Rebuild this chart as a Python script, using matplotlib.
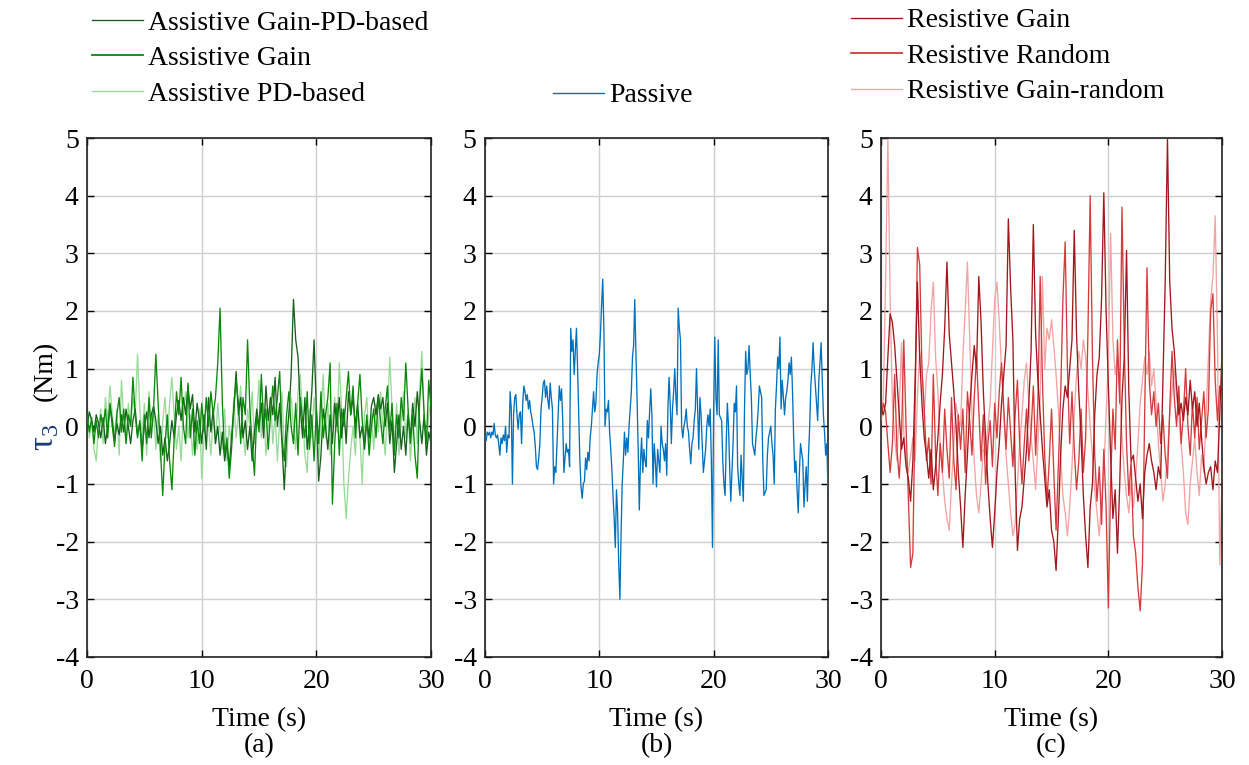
import numpy as np
import matplotlib
matplotlib.use("Agg")
import matplotlib.pyplot as plt
from matplotlib.lines import Line2D

plt.rcParams['font.family'] = ['Liberation Serif', 'DejaVu Serif']
plt.rcParams['mathtext.fontset'] = 'custom'
plt.rcParams['mathtext.rm'] = 'Liberation Serif'
plt.rcParams['mathtext.it'] = 'Liberation Serif:italic'
plt.rcParams['axes.unicode_minus'] = False

# ---------------- data ----------------
# sampling grids (s)
t_fine = np.round(np.arange(0, 301) * 0.1, 2)      # passive trial
t_coarse = np.round(np.arange(0, 151) * 0.2, 2)    # assistive / resistive trials

assist_gain_pd = [
    0.0, 0.25, 0.1, -0.1, 0.2, 0.05, -0.2, 0.15, -0.3, 0.0,
    0.35, 0.1, -0.25, 0.05, -0.15, 0.2, -0.1, 0.3, 0.0, -0.3,
    0.1, 0.3, -0.15, 0.05, -0.4, 0.0, 0.25, -0.2, 0.2, 0.35,
    0.1, -0.3, 0.0, -0.5, -0.2, -0.6, -0.3, 0.1, -0.2, 0.2,
    0.45, 0.1, 0.5, 0.2, 0.7, 0.3, 0.55, -0.1, 0.4, 0.1,
    -0.3, 0.2, -0.4, 0.5, -0.1, 0.3, -0.3, 0.0, -0.5, -0.1,
    -0.6, -0.3, -0.7, -0.2, 0.3, 0.95, 0.2, 0.5, -0.2, 0.1,
    -0.4, 0.0, -0.6, -0.1, 0.3, 0.0, 0.4, -0.2, 0.7, 0.1,
    0.5, 0.2, 0.85, 0.0, 0.4, -0.3, -1.1, -0.2, 0.2, 0.9,
    2.2, 1.5, 1.2, 0.3, -0.2, 0.5, -0.4, 0.0, 0.6, 1.5,
    0.3, -0.95, -0.5, 0.3, 0.0, -0.4, 0.2, -0.3, 0.4, 0.0,
    0.5, -0.2, 0.3, -0.3, 0.6, 0.2, 0.5, 0.0, 0.4, -0.2,
    0.0, -0.4, 0.1, -0.2, 0.35, 0.5, 0.2, 0.55, 0.3, 0.5,
    0.0, 0.4, -0.3, 0.1, -0.8, -0.3, 0.2, -0.4, 0.0, -0.5,
    0.2, -0.2, 0.4, 0.0, 0.6, 0.1, -0.3, 0.2, -0.5, -0.1,
    -0.3,
]

assist_gain = [
    0.2, -0.1, 0.15, -0.3, 0.1, -0.2, 0.2, 0.0, 0.3, -0.2,
    0.4, 0.0, -0.35, 0.2, 0.5, -0.1, 0.3, -0.3, 0.2, 0.0,
    0.85, 0.2, -0.2, 0.1, -0.6, 0.2, -0.3, 0.5, -0.2, 0.3,
    1.25, 0.4, -0.4, -1.2, -0.3, 0.2, -0.6, -1.1, -0.2, 0.6,
    0.2, 0.85, 0.0, -0.3, 0.75, -0.2, 0.3, -0.5, 0.1, -0.3,
    0.4, -0.1, 0.5, 0.0, 0.6, 0.2, 0.5, 1.1, 2.05, 0.4,
    -0.5, -0.2, -0.9, -0.4, 0.3, 0.8, 0.4, -0.3, 0.5, 0.2,
    1.5, 0.3, -0.3, -0.85, 0.2, -0.1, 0.9, 0.0, 0.3, -0.4,
    0.2, 0.7, 0.1, 0.5, 0.95, -0.2, -0.6, 0.2, 0.6, 0.0,
    -0.3, 0.4, -0.5, 0.5, 0.1, -0.2, 0.6, -0.4, 0.2, -0.6,
    0.3, -0.3, 0.6, -0.2, 0.2, 0.5, 1.1, -1.35, -0.3, 0.4,
    -0.5, 0.3, 0.0, 0.5, 0.95, 0.2, 0.7, -0.2, 0.4, 0.9,
    0.1, -0.3, 0.2, -0.5, 0.0, 0.3, -0.2, 0.5, 0.1, -0.3,
    0.3, 0.7, -0.1, 0.4, -0.5, 0.2, -0.2, 0.5, 0.1, 1.1,
    0.3, -0.3, 0.2, -0.5, -0.9, 0.4, 1.0, 0.2, -0.3, 0.8,
    0.3,
]

assist_pd = [
    0.45, -0.2, 0.1, -0.4, -0.6, 0.0, 0.3, -0.3, 0.5, 0.1,
    0.7, 0.2, -0.2, 0.3, -0.5, 0.8, 0.1, -0.3, 0.4, 0.0,
    0.5, 0.2, 1.25, 0.3, -0.2, 0.4, -0.5, 0.6, 0.0, 0.3,
    -0.4, 0.2, -0.6, 0.1, 0.5, -0.2, 0.4, 0.85, 0.2, -0.4,
    0.0, -0.6, 0.3, 0.6, -0.2, 0.2, -0.5, 0.0, -0.4, 0.3,
    -0.9, -0.2, 0.5, 0.0, -0.5, 0.2, -0.3, 0.4, -0.1, -0.4,
    0.3, -0.6, 0.0, -0.3, 0.5, -0.2, 0.2, 0.7, -0.1, -0.5,
    0.3, 0.0, 0.6, -0.3, 0.2, 0.8, -0.2, 0.4, -0.5, 0.0,
    0.5, -0.3, 0.2, -0.6, 0.1, 0.6, -0.4, -0.7, 0.2, 0.5,
    0.0, -0.4, 0.6, 0.9, 0.2, -0.5, -0.8, 0.3, -0.2, 0.5,
    0.0, -0.6, 0.2, 0.9, -0.2, 0.4, -0.5, 0.1, 0.5, -0.1,
    1.1, 0.3, -1.0, -1.6, -0.9, -0.4, 0.0, -0.5, 0.3, -0.2,
    -1.0, 0.2, 0.5, -0.3, 0.2, -0.4, 0.4, -0.1, 0.6, 0.0,
    -0.5, 0.2, 1.2, 0.3, -0.3, 0.4, -0.5, 0.1, 0.6, -0.2,
    0.3, -0.6, 0.0, 0.5, -0.3, 0.6, 1.3, 0.2, -0.4, 0.2,
    0.5,
]

passive = [
    -0.15, -0.25, -0.1, -0.15, -0.1, -0.2, -0.1, -0.15, 0.05, -0.15,
    -0.2, -0.15, -0.3, -0.5, -0.2, -0.3, -0.15, -0.25, 0.0, -0.45,
    -0.15, -0.2, 0.6, 0.3, -1.0, 0.2, 0.5, 0.55, 0.2, -0.05,
    0.2, 0.25, -0.3, 0.4, 0.7, 0.6, 0.45, 0.55, 0.3, 0.45,
    0.25, 0.15, 0.0, -0.1, -0.35, -0.7, -0.75, -0.55, -0.3, 0.3,
    0.5, 0.75, 0.8, 0.5, 0.7, 0.45, 0.3, 0.75, 0.5, 0.3,
    -1.0, -0.7, -0.8, -0.3, 0.2, 0.7, 0.45, 0.65, 0.1, -0.8,
    -0.55, -0.3, -0.45, -0.4, -0.7, 1.7, 1.3, 1.5, 0.9, 1.3,
    1.7, 1.0, 0.2, -0.6, -1.05, -1.25, -1.0, -0.95, -0.55, -0.75,
    -0.45, -0.6, -0.2, 0.0, 0.3, 0.6, 0.25, 0.4, 0.9, 1.1,
    1.25, 1.6, 2.1, 2.55, 1.7, 0.0, 0.3, 0.25, 0.45, -0.1,
    -0.4, -0.75, -1.2, -1.6, -2.1, -1.1, -1.5, -2.4, -3.0, -1.9,
    -1.0, -0.6, -0.1, -0.5, -0.2, -0.45, 0.0, 0.3, 0.6, 1.2,
    1.4, 2.2, 1.3, 0.5, -0.4, -1.45, -0.6, -0.2, -0.8, -0.4,
    -0.6, -0.7, 0.1, -0.2, 0.25, 0.65, 0.2, -1.0, -0.3, -0.6,
    -1.05, -0.4, -0.6, -0.8, 0.0, -0.3, -0.4, -0.6, -0.3, -0.85,
    0.3, 0.85, 0.4, -0.3, 0.3, 0.6, 1.0, 0.5, 0.2, 2.05,
    1.7, 1.5, 0.0, -0.2, 0.0, 0.1, 0.3, 0.0, -0.1, -0.4,
    -0.65, -0.3, -0.2, 0.1, 0.3, 1.0, 0.3, -0.4, 0.5, 0.2,
    -0.3, -0.8, -0.6, -0.4, 0.0, 0.2, 0.0, 0.3, -0.6, -2.1,
    0.3, 1.55, 0.5, 0.2, 1.5, 0.2, 0.15, 0.1, -0.6, -1.0,
    -1.2, -0.3, 0.4, 0.0, -0.7, -1.3, -0.8, -0.3, 0.4, 0.25,
    0.7, -0.7, -1.0, -1.2, -0.5, -0.9, -1.3, 0.3, 1.3, 0.9,
    1.0, 1.4, 0.9, 0.5, -0.3, -0.4, -0.5, -0.2, 0.0, 0.3,
    0.7, 0.6, 0.5, -0.6, -1.2, -1.15, -1.1, -0.5, -0.2, -0.1,
    0.0, -0.3, -0.5, -1.0, 0.3, 0.7, 1.2, 1.0, 1.55, 0.3,
    0.8, 0.5, 0.2, 0.5, 0.6, 0.8, 1.1, 0.9, 1.2, 0.6,
    -0.2, -0.8, -0.6, -1.1, -1.5, -0.8, -0.3, -0.45, -0.6, -1.4,
    -1.0, -0.7, -1.3, -0.5, 0.0, 0.7, 1.0, 1.45, 1.0, 0.7,
    0.4, 0.1, 0.8, 1.1, 1.45, 0.8, 0.2, -0.1, -0.5, -0.3,
    -1.1,
]

resist_gain = [
    0.3, 0.2, 0.4, 1.2, 1.95, 1.8, 1.4, 0.8, 0.2, -0.4,
    -0.2, -0.7, -0.9, -1.3, -0.6, 0.8, 2.5, 1.2, 0.4, -0.2,
    -0.5, -0.9, -0.4, -1.1, -0.7, -0.2, 0.4, 0.9, 1.7, 2.85,
    1.6, 1.1, 0.6, 0.0, -0.8, -1.4, -2.1, -1.2, -0.5, 0.3,
    0.9, 1.4, 1.0, 2.6, 1.8, 0.6, -0.2, -1.0, -1.6, -2.1,
    -1.5, -0.8, -0.3, 0.4, 0.9, 1.4, 3.6, 2.4, 1.5, -0.8,
    -2.15, -1.6, -1.4, -0.9, -0.4, 0.4, 1.3, 3.5, 1.6, 0.8,
    0.2, -0.4, -0.9, -1.4, -1.1, -1.8, -2.0, -2.5, -1.6, -0.5,
    0.3, 0.7, 0.5, 1.0, 1.5, 3.4, 1.6, 0.6, -0.2, -1.2,
    -1.9, -2.45, -1.4, -1.0, 0.2, 0.9, 1.2, 2.2, 4.05, 2.0,
    0.7, -0.5, -1.6, -1.1, -2.2, -1.0, 0.5, 1.2, 3.05, 0.6,
    -0.6, -0.5, -0.9, -1.3, -1.0, -1.6, -0.8, -0.5, -0.3, -0.6,
    -0.8, -1.1, -0.7, -0.9, 0.8, 2.5, 5.0, 2.5, 1.7, 1.3,
    0.7, 0.2, 0.4, 0.1, 0.5, 0.2, 0.8, 0.3, 0.6, 0.0,
    0.4, -0.2, -0.7, -1.0, -0.8, -0.7, -1.1, -0.6, -0.8, 0.2,
    1.3,
]

resist_random = [
    0.1, 0.4, 0.25, -0.3, -0.8, -0.3, 0.9, -0.4, -0.9, -0.2,
    1.5, 0.0, -1.2, -2.45, -2.2, 0.4, 3.1, 2.8, 1.0, 0.3,
    -0.6, -0.2, -1.0, 0.9, -0.5, -1.2, -0.3, -0.8, 0.3, -0.4,
    -0.9, 0.5, -0.6, -1.1, 0.2, -0.4, 0.3, -0.8, 0.6, 0.1,
    -0.5, 0.5, 1.2, 0.3, -0.6, 0.2, -1.0, -0.3, 0.1, -0.7,
    0.4, -0.2, 0.6, 1.1, 0.3, -0.4, 0.5, -0.1, -0.7, 0.2,
    0.8, -0.3, -1.0, -0.3, 0.3, -0.6, -0.1, 0.7, -0.5, 0.4,
    2.6, 0.8, -0.5, -1.3, -0.6, 0.3, -0.8, -1.8, -0.7, 0.5,
    2.2, 3.2, 1.0, -0.3, 0.6, -0.4, -1.1, -0.6, 0.3, -0.8,
    -0.2, 1.6, 4.0, 1.2, -0.5, -1.3, -0.7, -1.7, -0.4, -1.4,
    -3.15, -1.0, 0.3, -0.4, 1.5, 0.4, 3.8, 1.4, -0.3, -1.2,
    -0.6, -1.9, -2.2, -2.8, -3.2, -2.4, 0.3, 2.75, 0.8, 0.2,
    0.6, 0.0, 0.4, -0.3, 0.2, -0.5, -0.9, 0.3, 1.3, 0.5,
    0.0, 0.7, -0.3, 0.2, 1.0, 0.0, -0.5, 0.4, -0.2, 0.5,
    -0.4, 0.1, 0.6, -0.2, 0.3, 2.0, 2.3, 0.8, 0.1, 0.7,
    0.4,
]

resist_gain_random = [
    0.2, 0.5, 2.5, 5.0, 2.2, 0.4, -0.2, -0.6, 0.3, 1.45,
    -0.1, -0.6, -0.8, -0.5, -0.2, -0.6, 0.5, 1.3, 1.0, 0.2,
    0.9, 1.1, 2.0, 2.5, 1.2, 0.6, -0.3, -0.8, -1.3, -1.6,
    -1.8, -1.0, -0.3, 0.4, 0.1, 0.0, 1.2, 2.0, 2.85, 1.5,
    0.2, -0.6, -1.2, -1.5, -1.0, -0.4, -0.5, 0.0, 0.4, 1.3,
    2.2, 2.5, 1.8, 1.0, 0.2, -0.5, -1.0, -1.5, -1.9, -1.7,
    -1.0, -0.3, 0.2, 0.8, 1.1, 0.4, -0.2, -0.6, -1.1, -0.3,
    0.5, 2.6, 1.0, 1.7, 1.5, 1.85, 1.4, 0.9, 0.3, -0.5,
    -1.2, -1.5, -1.9, -1.4, -0.7, 0.2, 0.9, 1.3, 1.0, 1.5,
    1.2, 0.6, 0.0, -0.5, -1.1, -1.5, -1.9, -1.3, -0.8, 0.2,
    1.2, 3.35, 1.5, 0.9, 1.2, 0.6, -0.2, -0.8, -1.2, -1.5,
    -1.0, -1.4, -0.9, -0.3, 0.4, 0.8, 1.2, 0.9, 1.3, 0.7,
    1.0, 0.4, -0.3, -0.8, -1.3, -1.0, -0.5, 0.2, 0.6, 1.0,
    0.5, 0.2, -0.3, -0.8, -1.5, -1.7, -1.0, -0.6, -0.2, -0.8,
    -1.2, -0.5, -0.8, 0.2, 1.2, 2.2, 2.6, 3.65, 1.5, -2.4,
    -1.0,
]

x_ticks = [0, 10, 20, 30]
y_ticks = [-4, -3, -2, -1, 0, 1, 2, 3, 4, 5]
panel_tags = ['(a)', '(b)', '(c)']

# ---------------- styling ----------------
FS = 20
C_GPD = '#17601B'
C_GAIN = '#0A880A'
C_PD = '#98DB98'
C_PASS = '#0072BD'
C_RG = '#A3161C'
C_RR = '#D63A3C'
C_RGR = '#F3A3A3'
LW = 0.95

fig = plt.figure(figsize=(12.49, 7.65), dpi=100)
axes_rects = [
    [0.0697, 0.1412, 0.2754, 0.6784],
    [0.3883, 0.1412, 0.2746, 0.6784],
    [0.7054, 0.1412, 0.2730, 0.6784],
]
axes = [fig.add_axes(r) for r in axes_rects]

# panel (a): assistive modes
ax = axes[0]
ax.plot(t_coarse, assist_pd, color=C_PD, lw=LW, zorder=2)
ax.plot(t_coarse, assist_gain_pd, color=C_GPD, lw=LW, zorder=3)
ax.plot(t_coarse, assist_gain, color=C_GAIN, lw=LW, zorder=4)

# panel (b): passive mode
axes[1].plot(t_fine, passive, color=C_PASS, lw=LW, zorder=3)

# panel (c): resistive modes
ax = axes[2]
ax.plot(t_coarse, resist_gain_random, color=C_RGR, lw=LW, zorder=2)
ax.plot(t_coarse, resist_random, color=C_RR, lw=LW, zorder=3)
ax.plot(t_coarse, resist_gain, color=C_RG, lw=LW, zorder=4)

for ax, tag in zip(axes, panel_tags):
    ax.set_xlim(0, 30)
    ax.set_ylim(-4, 5)
    ax.set_xticks(x_ticks)
    ax.set_yticks(y_ticks)
    ax.grid(True, color='#cfcfcf', lw=1.0)
    ax.set_axisbelow(True)
    ax.tick_params(direction='in', length=5, width=1.0, top=True, right=True,
                   labelsize=FS, colors='black')
    ax.tick_params(axis='x', pad=9)
    ax.tick_params(axis='y', pad=6)
    for sp in ax.spines.values():
        sp.set_linewidth(1.2)
        sp.set_color('#222222')
    ax.set_xlabel('Time (s)\n' + tag, fontsize=FS, linespacing=1.05, labelpad=9)

# y label: coloured symbol followed by the unit
fig.text(0.036, 0.428, r'$\mathrm{\tau}_{\mathrm{3}}$', color='#1A3C78', fontsize=25,
         rotation=90, ha='center', va='center')
fig.text(0.036, 0.515, '(Nm)', color='black', fontsize=FS, rotation=90,
         ha='center', va='center')

# legends above each panel
leg_kw = dict(frameon=False, fontsize=FS, handlelength=1.85, handletextpad=0.18,
              labelspacing=0.36, borderpad=0, borderaxespad=0, loc='upper left')

h_a = [Line2D([], [], color=C_GPD, lw=LW), Line2D([], [], color=C_GAIN, lw=1.3),
       Line2D([], [], color=C_PD, lw=LW)]
fig.legend(h_a, ['Assistive Gain-PD-based', 'Assistive Gain', 'Assistive PD-based'],
           bbox_to_anchor=(0.0737, 0.9865), **leg_kw)

h_b = [Line2D([], [], color=C_PASS, lw=1.0)]
fig.legend(h_b, ['Passive'], bbox_to_anchor=(0.4428, 0.8915), **leg_kw)

h_c = [Line2D([], [], color=C_RG, lw=LW), Line2D([], [], color=C_RR, lw=1.3),
       Line2D([], [], color=C_RGR, lw=LW)]
fig.legend(h_c, ['Resistive Gain', 'Resistive Random', 'Resistive Gain-random'],
           bbox_to_anchor=(0.6813, 0.9895), **leg_kw)

fig.savefig('out.png', dpi=100)
